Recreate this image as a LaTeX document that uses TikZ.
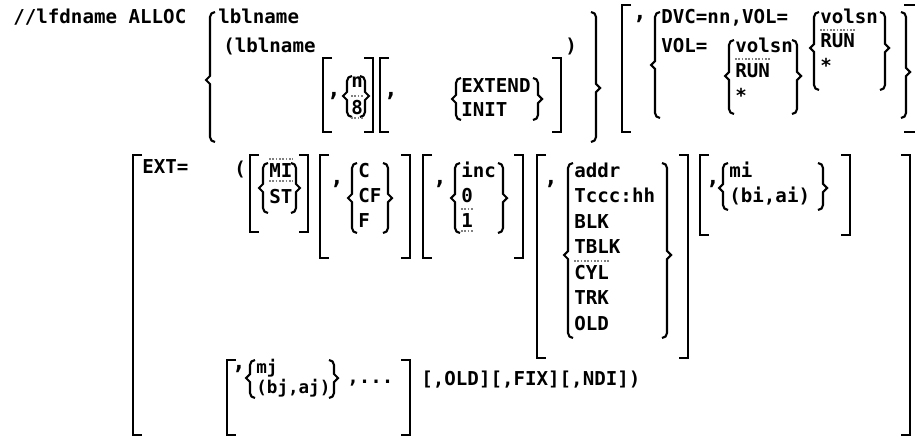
\documentclass[tikz,border=0pt]{standalone}
\usepackage{fontspec}
\newfontfamily\synfont{DejaVu Sans Mono}
% 括弧（x, 上端, 下端）
\newcommand{\lbrk}[3]{\draw[brk] (#1+9,#2) -- (#1,#2) -- (#1,#3) -- (#1+9,#3);}
\newcommand{\rbrk}[3]{\draw[brk] (#1-9,#2) -- (#1,#2) -- (#1,#3) -- (#1-9,#3);}
% 波括弧（x, 上端, 中央, 下端）
\newcommand{\lbrc}[4]{\draw[brk] (#1+5,#2) to[out=180,in=90] (#1,#2+5) -- (#1,#3-4) -- (#1-4,#3) -- (#1,#3+4) -- (#1,#4-5) to[out=-90,in=180] (#1+5,#4);}
\newcommand{\rbrc}[4]{\draw[brk] (#1-5,#2) to[out=0,in=90] (#1,#2+5) -- (#1,#3-4) -- (#1+4,#3) -- (#1,#3+4) -- (#1,#4-5) to[out=-90,in=0] (#1-5,#4);}
\tikzset{
  tok/.style={anchor=base west,inner sep=0pt,font=\synfont\bfseries\fontsize{10.9}{12}\selectfont},
  small tok/.style={tok,font=\synfont\bfseries\fontsize{10}{11}\selectfont},
  cma/.style={tok,anchor=base,font=\synfont\bfseries\fontsize{13}{14}\selectfont},
  brk/.style={line width=1.2pt},
  dflt/.style={gray,densely dotted,line width=0.9pt}
}
\begin{document}
\begin{tikzpicture}[x=0.02cm,y=-0.02cm]
  \useasboundingbox (0,0) rectangle (915,439);
  % 1行目
  \node[tok] (title) at (13,24) {//lfdname ALLOC};
  \lbrc{210}{12}{80}{142}
  \node[tok] (lbl) at (218,24) {lblname};
  \node[tok] (lblp) at (223,53) {(lblname};
  \lbrk{323}{58}{132} \rbrk{373}{58}{132}
  \node[cma] (cA) at (334,96) {,};
  \lbrc{347}{76}{96}{117} \rbrc{365}{76}{96}{117}
  \node[tok] (n) at (351,88) {n};
  \node[tok] (eight) at (351,114) {8};
  \lbrk{380}{58}{132} \rbrk{561}{58}{132}
  \node[cma] (cB) at (391,96) {,};
  \lbrc{456}{78}{99}{120} \rbrc{538}{78}{99}{120}
  \node[tok] (extend) at (461,92) {EXTEND};
  \node[tok] (init) at (461,116) {INIT};
  \node[tok] (rp) at (565,53) {)};
  \rbrc{596}{12}{88}{142}
  % DVC / VOL
  \lbrk{622}{5}{132}
  \draw[brk] (904,5) -- (917,5) -- (917,132) -- (904,132);
  \node[cma] (cC) at (640,20) {,};
  \lbrc{655}{12}{65}{118} \rbrc{906}{12}{72}{118}
  \node[tok] (dvc) at (661,24) {DVC=nn,VOL=};
  \node[tok] (vol) at (661,52) {VOL=};
  \lbrc{729}{40}{76}{114} \rbrc{797}{40}{76}{114}
  \node[tok] (volA) at (735,52) {volsn};
  \node[tok] (runA) at (735,77) {RUN};
  \node[tok] (starA) at (735,102) {*};
  \lbrc{814}{12}{48}{90} \rbrc{885}{12}{48}{90}
  \node[tok] (volB) at (820,24) {volsn};
  \node[tok] (runB) at (820,48) {RUN};
  \node[tok] (starB) at (820,72) {*};
  % EXT=
  \lbrk{133}{155}{435} \rbrk{910}{155}{435}
  \node[tok] (ext) at (142,173) {EXT=};
  \node[tok] (lp) at (234,175) {(};
  \lbrk{250}{155}{232} \rbrk{308}{155}{232}
  \lbrc{263}{163}{188}{213} \rbrc{296}{163}{188}{213}
  \node[tok] (mi) at (269,177) {MI};
  \node[tok] (st) at (269,203) {ST};
  \lbrk{320}{155}{258} \rbrk{410}{155}{258}
  \node[cma] (cD) at (337,184) {,};
  \lbrc{352}{163}{198}{233} \rbrc{388}{163}{198}{233}
  \node[tok] (c) at (358,177) {C};
  \node[tok] (cf) at (358,202) {CF};
  \node[tok] (f) at (358,227) {F};
  \lbrk{423}{155}{258} \rbrk{523}{155}{258}
  \node[cma] (cE) at (440,184) {,};
  \lbrc{455}{163}{198}{233} \rbrc{503}{163}{198}{233}
  \node[tok] (inc) at (461,177) {inc};
  \node[tok] (zero) at (461,202) {0};
  \node[tok] (one) at (461,227) {1};
  \lbrk{537}{155}{358} \rbrk{688}{155}{358}
  \node[cma] (cF) at (551,184) {,};
  \lbrc{568}{163}{255}{338} \rbrc{667}{163}{255}{338}
  \node[tok] (addr) at (574,177) {addr};
  \node[tok] (tccc) at (574,202.5) {Tccc:hh};
  \node[tok] (blk) at (574,228) {BLK};
  \node[tok] (tblk) at (574,253.5) {TBLK};
  \node[tok] (cyl) at (574,279) {CYL};
  \node[tok] (trk) at (574,304.5) {TRK};
  \node[tok] (old) at (574,330) {OLD};
  \lbrk{700}{155}{235} \rbrk{850}{155}{235}
  \node[cma] (cG) at (713,184) {,};
  \lbrc{723}{163}{188}{210} \rbrc{823}{163}{188}{210}
  \node[tok] (mival) at (729,177) {mi};
  \node[tok] (biai) at (729,202) {(bi,ai)};
  % 最終行
  \lbrk{227}{360}{435} \rbrk{410}{360}{435}
  \node[cma] (cH) at (239,369) {,};
  \lbrc{250}{360}{378}{398} \rbrc{334}{360}{378}{398}
  \node[small tok] (mj) at (256,373) {mj};
  \node[small tok] (bjaj) at (256,393) {(bj,aj)};
  \node[tok] (dots) at (347,383) {,...};
  \node[tok] (opts) at (421,385) {[,OLD][,FIX][,NDI])};
  % 省略値
  \foreach \d in {eight,mi,one,runA,runB,cyl}
    \draw[dflt] ([yshift=2pt]\d.north west) -- ([yshift=2pt]\d.north east);
  \foreach \d in {eight,mi,one}
    \draw[dflt] ([yshift=-2pt]\d.south west) -- ([yshift=-2pt]\d.south east);
\end{tikzpicture}
\end{document}
